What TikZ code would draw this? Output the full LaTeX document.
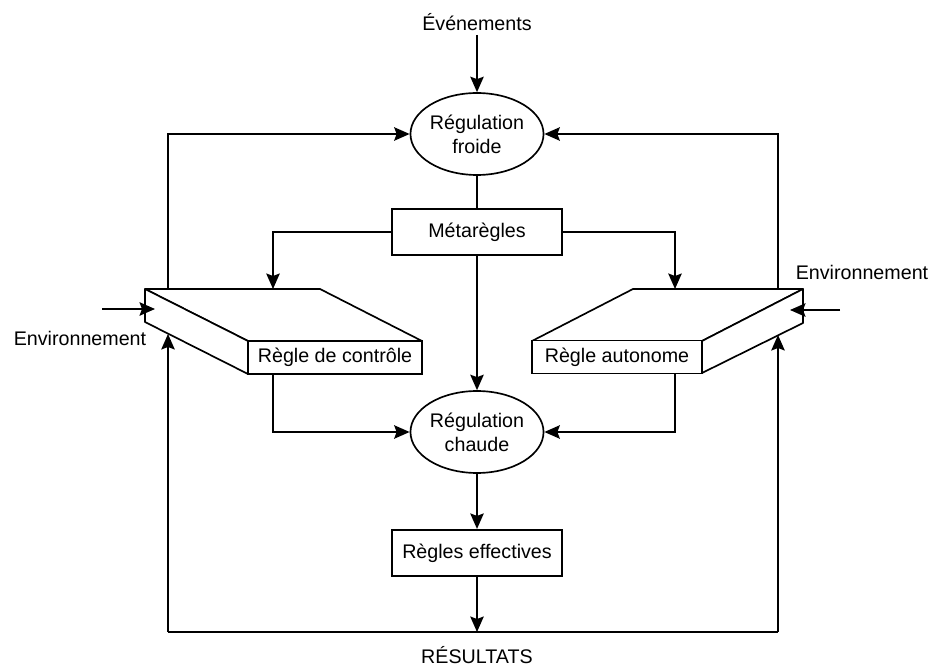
\documentclass[tikz,border=0pt]{standalone}
\usepackage{fontspec}
\setmainfont{Liberation Sans}
\usetikzlibrary{arrows.meta,shapes.geometric}
\begin{document}
\begin{tikzpicture}[x=0.02cm,y=-0.02cm,
  line width=0.95pt,
  font=\fontsize{11.2}{13.6}\selectfont,
  arr/.style={-{Stealth[length=3.1mm,width=2.7mm,inset=0.5mm]}},
  regul/.style={draw,ellipse,inner sep=0pt,minimum width=2.54cm,minimum height=1.64cm,align=center},
  rulebox/.style={draw,rectangle,inner sep=0pt,minimum width=3.4cm,minimum height=0.93cm},
  face/.style={draw,fill=white,rectangle,inner sep=0pt,minimum height=0.66cm},
  lbl/.style={inner sep=2pt}]
\useasboundingbox (0,0) rectangle (932,668);

% central column
\node[lbl] (ev) at (477,22) {Événements};
\node[regul] (froid) at (477,134) {Régulation\\froide};
\node[rulebox] (meta) at (477,232) {Métarègles};
\node[regul] (chaud) at (477,432) {Régulation\\chaude};
\node[rulebox] (eff) at (477,553) {Règles effectives};
\node[lbl] (res) at (477,655) {RÉSULTATS};

% left slab (Règle de contrôle)
\draw[fill=white,line join=round] (145,289) -- (320,289) -- (422,341) -- (248,341) -- cycle;
\draw[fill=white,line join=round] (145,289) -- (248,341) -- (248,374) -- (145,322) -- cycle;
\node[face,minimum width=3.48cm] (ctrl) at (335,357.5) {Règle de contrôle};

% right slab (Règle autonome)
\draw[fill=white,line join=round] (633,289) -- (803,289) -- (702,341) -- (532,341) -- cycle;
\draw[fill=white,line join=round] (803,289) -- (702,341) -- (702,373) -- (803,323) -- cycle;
\node[face,minimum width=3.4cm] (auto) at (617,357) {Règle autonome};

% side labels
\node[lbl] (envL) at (80,338) {Environnement};
\node[lbl] (envR) at (862,272) {Environnement};

% anchor points on the slabs and the result line
\coordinate (lt) at (273,289);
\coordinate (rt) at (675,289);
\coordinate (lup) at (168,289);
\coordinate (rup) at (778,289);
\coordinate (lin) at (168,334);
\coordinate (rin) at (778,335);
\coordinate (bl) at (168,632);
\coordinate (br) at (778,632);
\coordinate (envLa) at (102,309);
\coordinate (envLb) at (155,309);
\coordinate (envRa) at (840,310);
\coordinate (envRb) at (790,310);

% connectors
\draw[arr] (ev) -- (froid);
\draw (froid) -- (meta);
\draw[arr] (meta.west) -| (lt);
\draw[arr] (meta.east) -| (rt);
\draw[arr] (meta) -- (chaud);
\draw[arr] (lup) |- (froid.west);
\draw[arr] (rup) |- (froid.east);
\draw[arr] (ctrl.south -| lt) |- (chaud.west);
\draw[arr] (auto.south -| rt) |- (chaud.east);
\draw[arr] (chaud) -- (eff);
\draw[arr] (eff) -- (eff.south |- bl);
\draw (bl) -- (br);
\draw[arr] (bl) -- (lin);
\draw[arr] (br) -- (rin);
\draw[arr] (envLa) -- (envLb);
\draw[arr] (envRa) -- (envRb);
\end{tikzpicture}
\end{document}
